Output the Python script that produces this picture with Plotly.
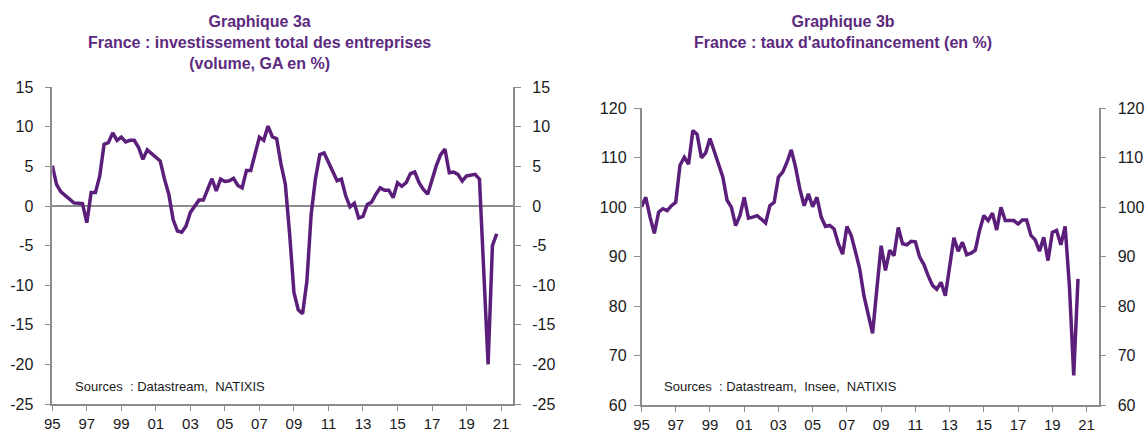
import plotly.graph_objects as go

# Graphique 3a : investissement total des entreprises (volume, GA en %), quarterly from 1995Q1
inv_growth = [
    5.1, 2.7, 1.8, 1.3, 0.9, 0.4, 0.35, 0.3,          # 1995-1996
    -2.1, 1.7, 1.7, 3.8, 7.8, 8.0, 9.25, 8.3,        # 1997-1998
    8.7, 8.1, 8.3, 8.3, 7.4, 5.9, 7.1, 6.6,          # 1999-2000
    6.2, 5.7, 3.4, 1.5, -1.7, -3.15, -3.3, -2.5,     # 2001-2002
    -0.8, 0.0, 0.75, 0.75, 2.2, 3.45, 1.9, 3.4,      # 2003-2004
    3.1, 3.2, 3.5, 2.6, 2.3, 4.5, 4.5, 6.5,          # 2005-2006
    8.7, 8.3, 10.1, 8.75, 8.5, 5.3, 2.8, -3.5,       # 2007-2008
    -10.9, -13.1, -13.6, -9.5, -1.0, 3.5, 6.5, 6.7,  # 2009-2010
    5.5, 4.5, 3.2, 3.4, 1.3, -0.1, 0.35, -1.5,       # 2011-2012
    -1.3, 0.2, 0.5, 1.5, 2.3, 2.0, 2.0, 1.05,        # 2013-2014
    2.95, 2.5, 2.95, 4.1, 4.3, 2.95, 2.1, 1.5,       # 2015-2016
    3.4, 5.1, 6.5, 7.2, 4.2, 4.3, 4.0, 3.15,         # 2017-2018
    3.8, 3.9, 4.0, 3.4, -8.0, -20.0, -5.0, -3.5,     # 2019-2020
]

# Graphique 3b : taux d'autofinancement (en %), quarterly from 1995Q1
autofin = [
    100.1, 102.0, 98.0, 94.7, 99.0, 99.7, 99.3, 100.3,       # 1995-1996
    101.0, 108.5, 110.1, 108.7, 115.5, 114.7, 110.0, 111.0,  # 1997-1998
    113.9, 111.4, 108.8, 106.1, 101.4, 100.0, 96.3, 98.3,    # 1999-2000
    102.0, 97.8, 98.0, 98.3, 97.6, 96.8, 100.3, 101.0,       # 2001-2002
    106.1, 107.1, 109.1, 111.6, 108.1, 103.7, 100.3, 102.7,  # 2003-2004
    100.1, 102.0, 98.0, 96.1, 96.3, 95.6, 92.6, 90.5,        # 2005-2006
    96.1, 94.3, 91.0, 87.5, 82.0, 78.0, 74.5, 83.5,          # 2007-2008
    92.2, 87.2, 91.3, 90.2, 95.9, 92.6, 92.4, 93.1,          # 2009-2010
    93.0, 89.9, 88.4, 86.1, 84.2, 83.4, 84.8, 82.1,          # 2011-2012
    88.2, 93.8, 91.1, 92.9, 90.4, 90.7, 91.3, 95.3,          # 2013-2014
    98.3, 97.3, 98.8, 95.4, 100.0, 97.3, 97.3, 97.3,         # 2015-2016
    96.6, 97.4, 97.4, 94.3, 93.4, 91.1, 93.9, 89.2,          # 2017-2018
    94.9, 95.3, 92.4, 96.1, 84.0, 66.0, 85.5,                # 2019-2020Q3
]

start_year = 1995
x_inv = [start_year + q / 4 for q in range(len(inv_growth))]
x_auto = [start_year + q / 4 for q in range(len(autofin))]

tick_years = list(range(1995, 2022, 2))
tick_labels = ["95", "97", "99", "01", "03", "05", "07", "09", "11", "13", "15", "17", "19", "21"]

left_y_vals = [-25, -20, -15, -10, -5, 0, 5, 10, 15]
left_y_text = ["-25", "-20", "-15", "-10", "-5", "0", "5", "10", "15"]
right_y_vals = [60, 70, 80, 90, 100, 110, 120]
right_y_text = ["60", "70", "80", "90", "100", "110", "120"]

LINE = "#5b1f7b"
TITLE = "#5c2a7e"
AXIS = "#8c8c8c"
FONT = "Liberation Sans, Arial, sans-serif"
TXT = "#1a1a1a"

W, H = 1146, 432


def fx(px):
    return px / W


def fy(py):
    return 1 - py / H


fig = go.Figure()
fig.add_trace(go.Scatter(x=x_inv, y=inv_growth, mode="lines", line=dict(color=LINE, width=3.5),
                         xaxis="x", yaxis="y", showlegend=False))
fig.add_trace(go.Scatter(x=x_inv, y=inv_growth, mode="lines", line=dict(color="rgba(0,0,0,0)", width=0),
                         xaxis="x", yaxis="y2", showlegend=False, hoverinfo="skip"))
fig.add_trace(go.Scatter(x=x_auto, y=autofin, mode="lines", line=dict(color=LINE, width=3.5),
                         xaxis="x2", yaxis="y3", showlegend=False))
fig.add_trace(go.Scatter(x=x_auto, y=autofin, mode="lines", line=dict(color="rgba(0,0,0,0)", width=0),
                         xaxis="x2", yaxis="y4", showlegend=False, hoverinfo="skip"))

tickfont = dict(family=FONT, size=16, color=TXT)
xtickfont = dict(family=FONT, size=15, color=TXT)
xcommon = dict(range=[1995, 2021.71], tickmode="array", tickvals=tick_years, ticktext=tick_labels,
               ticks="outside", ticklen=5, tickcolor=AXIS, tickwidth=1.2, showline=True, linecolor=AXIS,
               linewidth=1.5, showgrid=False, zeroline=False, tickfont=xtickfont, fixedrange=True,
               automargin=False)
ycommon = dict(tickmode="array", ticks="outside", ticklen=6, tickcolor=AXIS, tickwidth=1.2,
               showline=True, linecolor=AXIS, linewidth=1.5, showgrid=False, tickfont=tickfont,
               fixedrange=True, automargin=False)

fig.update_layout(
    width=W, height=H,
    margin=dict(l=0, r=0, t=0, b=0, pad=0, autoexpand=False),
    paper_bgcolor="white", plot_bgcolor="white",
    xaxis=dict(domain=[fx(52.3), fx(513.3)], anchor="y", **xcommon),
    yaxis=dict(domain=[fy(404), fy(87.3)], anchor="x", range=[-25, 15], tickvals=left_y_vals,
               ticktext=left_y_text, zeroline=True, zerolinecolor=AXIS, zerolinewidth=1.5,
               ticklabelstandoff=8, **ycommon),
    yaxis2=dict(overlaying="y", side="right", anchor="x", range=[-25, 15], tickvals=left_y_vals,
                ticktext=left_y_text, zeroline=False, ticklabelstandoff=8, **ycommon),
    xaxis2=dict(domain=[fx(641.5), fx(1098.7)], anchor="y3", **xcommon),
    yaxis3=dict(domain=[fy(405), fy(108.3)], anchor="x2", range=[60, 120], tickvals=right_y_vals,
                ticktext=right_y_text, zeroline=False, ticklabelstandoff=4, **ycommon),
    yaxis4=dict(overlaying="y3", side="right", anchor="x2", range=[60, 120], tickvals=right_y_vals,
                ticktext=right_y_text, zeroline=False, ticklabelstandoff=8, **ycommon),
    annotations=[
        dict(text="<b>Graphique 3a<br>France : investissement total des entreprises<br>(volume, GA en %)</b>",
             x=fx(259.5), y=fy(11), xref="paper", yref="paper", xanchor="center", yanchor="top",
             showarrow=False, align="center", font=dict(family=FONT, size=16, color=TITLE)),
        dict(text="<b>Graphique 3b<br>France : taux d'autofinancement (en %)</b>",
             x=fx(842.5), y=fy(11), xref="paper", yref="paper", xanchor="center", yanchor="top",
             showarrow=False, align="center", font=dict(family=FONT, size=16, color=TITLE)),
        dict(text="Sources  : Datastream,  NATIXIS", x=fx(73), y=fy(386), xref="paper", yref="paper",
             xanchor="left", yanchor="middle", showarrow=False, font=dict(family=FONT, size=13, color=TXT)),
        dict(text="Sources  : Datastream,  Insee,  NATIXIS", x=fx(661.5), y=fy(386.5), xref="paper",
             yref="paper", xanchor="left", yanchor="middle", showarrow=False,
             font=dict(family=FONT, size=13, color=TXT)),
    ],
)

fig.write_html("out.html", config={"displayModeBar": False},
               post_script="document.body.style.margin='0';document.body.style.overflow='hidden';")
